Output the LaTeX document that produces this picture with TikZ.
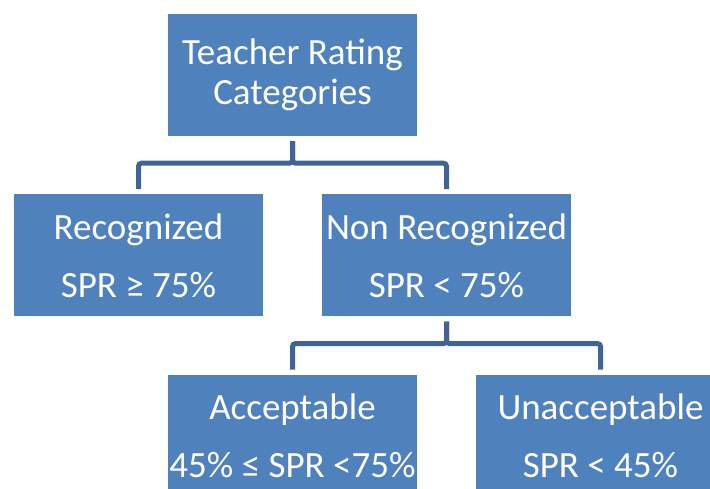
\documentclass[tikz,border=0pt]{standalone}
\usepackage{fontspec}
\setmainfont{Carlito}
\usepackage{tikz}
\usetikzlibrary{positioning}

\definecolor{boxblue}{HTML}{4F81BD}
\definecolor{linkblue}{HTML}{3F6597}

\begin{document}
\begin{tikzpicture}[
        x=1pt, y=1pt,
        category/.style={rectangle, minimum width=249pt, minimum height=122pt, inner sep=0pt, text centered, align=center, fill=boxblue, text=white, font=\fontsize{37}{58}\selectfont},
        link/.style={draw=linkblue, line width=5pt, rounded corners=3pt, shorten <=5pt, shorten >=5pt}
    ]

        \clip (0,0) rectangle (710,-488);

        % ===== top level =====
        \node (rating) [category, font=\fontsize{37}{40}\selectfont] at (292.5,-75) {Teacher Rating\\Categories};

        % ===== second level =====
        \node (recog) [category, below=58pt of rating, xshift=-154pt] {Recognized\\SPR ≥ 75\%};
        \node (nonrecog) [category, below=58pt of rating, xshift=154pt] {Non Recognized\\SPR < 75\%};

        % ===== third level =====
        \node (accept) [category, below=58pt of nonrecog, xshift=-154pt] {Acceptable\\45\% ≤ SPR <75\%};
        \node (unaccept) [category, below=58pt of nonrecog, xshift=154pt] {Unacceptable\\SPR < 45\%};

        % ===== links =====
        \draw [link] (rating.south) -- ++(0,-27) -| (recog.north);
        \draw [link] (rating.south) -- ++(0,-27) -| (nonrecog.north);
        \draw [link] (nonrecog.south) -- ++(0,-27) -| (accept.north);
        \draw [link] (nonrecog.south) -- ++(0,-27) -| (unaccept.north);

    \end{tikzpicture}
\end{document}
